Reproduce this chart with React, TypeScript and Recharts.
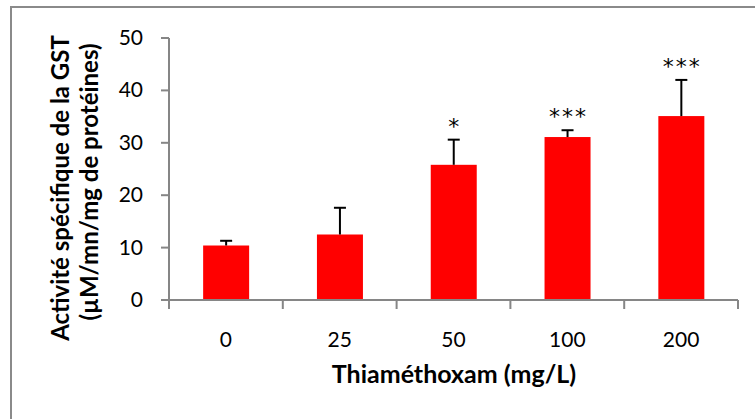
import { Bar, BarChart, XAxis, YAxis } from 'recharts';

const doses = ['0', '25', '50', '100', '200'];
const gstActivity = [10.4, 12.5, 25.8, 31.1, 35.1];
const gstError = [0.9, 5.1, 4.8, 1.3, 6.9];
const significance = ['', '', '*', '***', '***'];
const yTicks = [0, 10, 20, 30, 40, 50];

const data = doses.map((dose, i) => ({
  dose,
  value: gstActivity[i],
  err: gstError[i],
  sig: significance[i],
}));

const W = 755;
const H = 419;
const LEFT = 169;
const RIGHT = 17;
const AXIS_GRAY = '#868686';
const FONT = 'Lato, "Open Sans", sans-serif';
const bandHalf = (W - LEFT - RIGHT) / doses.length / 2;

const BarWithError = (props: any) => {
  const { x, y, width, height, payload } = props;
  const pxPerUnit = height / payload.value;
  const errTop = y - payload.err * pxPerUnit;
  const cx = x + width / 2;
  return (
    <g>
      <rect x={x} y={y} width={width} height={height} fill="#ff0000" />
      <line x1={cx} y1={y} x2={cx} y2={errTop} stroke="#000" strokeWidth={2} />
      <line x1={cx - 6} y1={errTop} x2={cx + 6} y2={errTop} stroke="#000" strokeWidth={2} />
      {payload.sig && (
        <text
          x={cx + 1}
          y={errTop - 6}
          textAnchor="middle"
          fontFamily='"DejaVu Sans", sans-serif'
          fontSize={22}
          letterSpacing={2}
          fill="#000"
        >
          {payload.sig}
        </text>
      )}
    </g>
  );
};

const XTick = (props: any) => {
  const { x, y, payload, index } = props;
  return (
    <g>
      <line x1={x - bandHalf} y1={y - 8} x2={x - bandHalf} y2={y + 1} stroke={AXIS_GRAY} strokeWidth={2} />
      {index === doses.length - 1 && (
        <line x1={x + bandHalf} y1={y - 8} x2={x + bandHalf} y2={y + 1} stroke={AXIS_GRAY} strokeWidth={2} />
      )}
      <text x={x} y={y + 39} textAnchor="middle" fontFamily={FONT} fontSize={21} fill="#000">
        {payload.value}
      </text>
    </g>
  );
};

const YTick = (props: any) => {
  const { x, y, payload } = props;
  return (
    <text x={x - 16} y={y + 7} textAnchor="end" fontFamily={FONT} fontSize={21} fill="#000">
      {payload.value}
    </text>
  );
};

export default function App() {
  return (
    <div style={{ position: 'absolute', left: 0, top: 0, width: W, height: H, background: '#fff' }}>
      <div
        style={{
          position: 'absolute',
          left: 10,
          top: 6,
          width: 800,
          height: 500,
          border: '2px solid #8a8a8a',
          boxSizing: 'border-box',
        }}
      />
      <div style={{ position: 'absolute', left: 0, top: 0 }}>
        <BarChart
          width={W}
          height={H}
          data={data}
          margin={{ top: 38, right: RIGHT, bottom: 0, left: 0 }}
          barCategoryGap="30%"
        >
          <XAxis
            dataKey="dose"
            height={119}
            stroke={AXIS_GRAY}
            strokeWidth={2}
            tickLine={false}
            tick={<XTick />}
            interval={0}
          />
          <YAxis
            width={LEFT}
            domain={[0, 50]}
            ticks={yTicks}
            stroke={AXIS_GRAY}
            strokeWidth={2}
            tickSize={8}
            tick={<YTick />}
            interval={0}
          />
          <text x={454} y={383} textAnchor="middle" fontFamily={FONT} fontSize={25} fontWeight={700} fill="#000">
            Thiaméthoxam (mg/L)
          </text>
          <text
            transform="translate(59,188) rotate(-90)"
            textAnchor="middle"
            dominantBaseline="central"
            fontFamily={FONT}
            fontSize={24}
            fontWeight={700}
            fill="#000"
          >
            Activité spécifique de la GST
          </text>
          <text
            transform="translate(88,182) rotate(-90)"
            textAnchor="middle"
            dominantBaseline="central"
            fontFamily={FONT}
            fontSize={24}
            fontWeight={700}
            fill="#000"
          >
            (µM/mn/mg de protéines)
          </text>
          <Bar dataKey="value" isAnimationActive={false} shape={<BarWithError />} />
        </BarChart>
      </div>
    </div>
  );
}
